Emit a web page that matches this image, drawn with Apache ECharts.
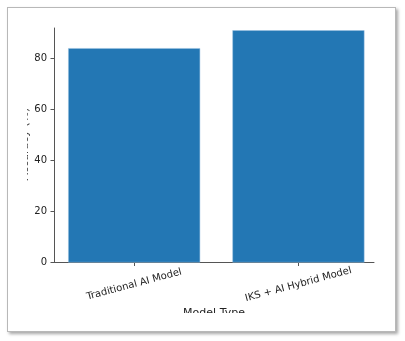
<!DOCTYPE html>
<html>
<head>
<meta charset="UTF-8">
<title>Model Accuracy</title>
<script src="https://cdn.jsdelivr.net/npm/echarts@6/dist/echarts.min.js"></script>
<style>
  html, body { margin: 0; padding: 0; background: #fff; }
  .frame {
    position: absolute; left: 7px; top: 7px; width: 387px; height: 323px;
    border: 1px solid #b8b8b8; box-shadow: 2px 2px 3px rgba(0,0,0,0.35);
    background: #fff;
  }
  .clip {
    position: absolute; left: 27px; top: 12px; width: 365px; height: 301px;
    overflow: hidden;
  }
  #chart { position: absolute; left: -27px; top: -12px; width: 405px; height: 341px; }
</style>
</head>
<body>
<div class="frame"></div>
<div class="clip"><div id="chart"></div></div>
<script>
var categories = ['Traditional AI Model', 'IKS + AI Hybrid Model'];
var accuracy = [84, 91];
var yTicks = [0, 20, 40, 60, 80];

var chart = echarts.init(document.getElementById('chart'));
var fontFamily = 'DejaVu Sans';

chart.setOption({
  animation: false,
  grid: { left: 54, right: 31, top: 28, bottom: 78.5 },
  // axis titles: the source image was cropped through them
  graphic: [
    {
      type: 'text', x: 214, y: 313.5,
      style: { text: 'Model Type', fill: '#222', font: '11px "DejaVu Sans"', align: 'center', verticalAlign: 'middle' }
    },
    {
      type: 'text', x: 25, y: 144, rotation: Math.PI / 2,
      style: { text: 'Accuracy (%)', fill: '#444', font: '11px "DejaVu Sans"', align: 'center', verticalAlign: 'middle' }
    }
  ],
  xAxis: {
    type: 'value',
    min: -0.488,
    max: 1.46,
    splitLine: { show: false },
    axisLine: { show: true, onZero: false, lineStyle: { color: '#555', width: 1 } },
    axisTick: { show: true, customValues: [0, 1], length: 3.5, lineStyle: { color: '#555' } },
    axisLabel: {
      customValues: [0, 1],
      rotate: 15,
      align: 'center',
      verticalAlign: 'middle',
      margin: 22,
      color: '#222',
      fontSize: 10,
      fontFamily: fontFamily,
      formatter: function (v) { return categories[Math.round(v)]; }
    }
  },
  yAxis: {
    type: 'value',
    min: 0,
    max: 91.9,
    splitLine: { show: false },
    axisLine: { show: true, onZero: false, lineStyle: { color: '#555', width: 1 } },
    axisTick: { show: true, customValues: yTicks, length: 3.5, lineStyle: { color: '#555' } },
    axisLabel: { customValues: yTicks, margin: 7, color: '#222', fontSize: 10, fontFamily: fontFamily }
  },
  series: [{
    type: 'bar',
    barWidth: 132,
    itemStyle: { color: '#2377b4', borderColor: '#9cc3e2', borderWidth: 0.5 },
    data: accuracy.map(function (v, i) { return [i, v]; })
  }]
});
</script>
</body>
</html>
